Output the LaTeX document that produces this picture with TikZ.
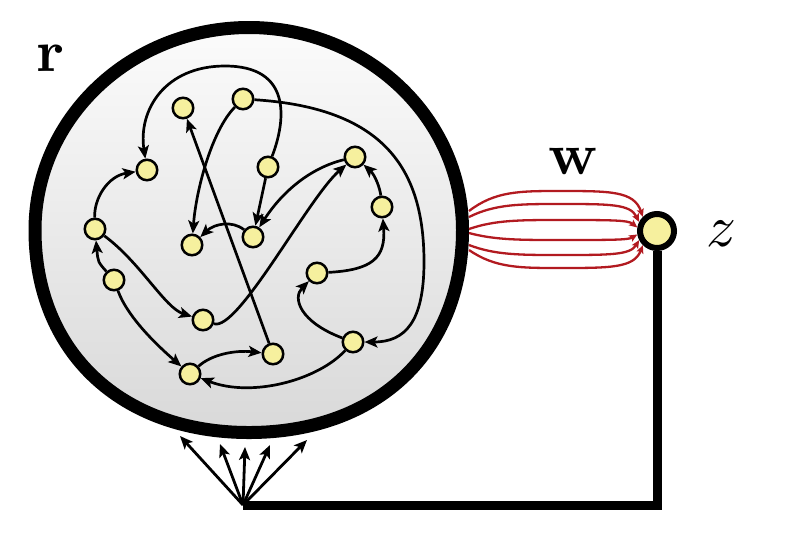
\documentclass[tikz,border=0pt]{standalone}
\usetikzlibrary{arrows.meta,shapes.geometric}
\definecolor{nodefill}{RGB}{246,240,158}
\definecolor{wred}{RGB}{178,26,32}
\begin{document}
\begin{tikzpicture}[x=1pt,y=-1pt,
  vtx/.style={circle,draw=black,line width=2.5pt,fill=nodefill,minimum size=20.5pt,inner sep=0pt},
  edge/.style={line width=2.7pt,-{Stealth[length=13pt,width=11pt,inset=3pt]}},
  redge/.style={draw=wred,line width=2.3pt,-{Stealth[length=8pt,width=7pt,inset=1.5pt]}},
  fan/.style={line width=2.8pt,-{Stealth[length=13pt,width=11pt,inset=3pt]}},
  ring/.style={draw=black,line width=13pt,top color=gray!3,bottom color=gray!30},
  lab/.style={inner sep=0pt,scale=5.9}
]
\useasboundingbox (0,0) rectangle (786,558);
% big region
\path[ring] (35,230) .. controls (35,118) and (131,27.5) .. (249,27.5)
  .. controls (367,27.5) and (462.5,118) .. (462.5,230)
  .. controls (462.5,352) and (377,432.5) .. (249,432.5)
  .. controls (121,432.5) and (35,352) .. (35,230) -- cycle;
% inner nodes
\node[vtx] (A) at (183,108) {};
\node[vtx] (B) at (243,99) {};
\node[vtx] (C) at (147,170) {};
\node[vtx] (D) at (268,167) {};
\node[vtx] (E) at (355,157) {};
\node[vtx] (F) at (382,207) {};
\node[vtx] (G) at (95,229) {};
\node[vtx] (H) at (192,245) {};
\node[vtx] (I) at (253,237) {};
\node[vtx] (J) at (114,280) {};
\node[vtx] (K) at (317,273) {};
\node[vtx] (L) at (203,320) {};
\node[vtx] (M) at (273,354) {};
\node[vtx] (N) at (353,342) {};
\node[vtx] (O) at (190,374) {};
% inner edges
\draw[edge] (D) .. controls (286,120) and (292,66) .. (225,66) .. controls (165,66) and (138,110) .. (C);
\draw[edge] (B) .. controls (212,130) and (196,190) .. (H);
\draw[edge] (M) -- (A);
\draw[edge] (D) -- (I);
\draw[edge] (I) .. controls (232,220) and (214,224) .. (H);
\draw[edge] (E) .. controls (310,168) and (282,192) .. (I);
\draw[edge] (L) .. controls (238,332) and (308,198) .. (E);
\draw[edge] (F) .. controls (380,188) and (375,175) .. (E);
\draw[edge] (K) .. controls (372,270) and (386,258) .. (F);
\draw[edge] (N) .. controls (300,322) and (292,298) .. (K);
\draw[edge] (B) .. controls (385,108) and (424,170) .. (424,262) .. controls (424,322) and (405,342) .. (N);
\draw[edge] (J) .. controls (98,262) .. (G);
\draw[edge] (G) .. controls (94,198) and (108,176) .. (C);
\draw[edge] (G) .. controls (140,262) and (165,308) .. (L);
\draw[edge] (J) .. controls (128,318) and (158,346) .. (O);
\draw[edge] (O) .. controls (212,354) and (236,350) .. (M);
\draw[edge] (N) .. controls (318,380) and (252,398) .. (O);
% output node
\node[circle,draw=black,line width=6pt,fill=nodefill,minimum size=34pt,inner sep=0pt] (z) at (657,231) {};
% red weights
\draw[redge] (469,211) .. controls (495,191) and (520,191) .. (560,191) .. controls (610,191) and (634,191) .. (z.135);
\draw[redge] (469,217) .. controls (495,204) and (520,204) .. (560,204) .. controls (610,204) and (630,204) .. (z.153);
\draw[redge] (469,229) .. controls (495,220) and (520,220) .. (560,220) .. controls (610,220) and (628,220) .. (z.170);
\draw[redge] (469,233) .. controls (495,240) and (520,240) .. (560,240) .. controls (610,240) and (628,240) .. (z.190);
\draw[redge] (469,245) .. controls (495,255) and (520,255) .. (560,255) .. controls (610,255) and (630,255) .. (z.207);
\draw[redge] (469,250) .. controls (495,268) and (520,268) .. (560,268) .. controls (610,268) and (634,268) .. (z.225);
% feedback connection
\coordinate (P) at (243,505);
\coordinate (t1) at (180,436);
\coordinate (t2) at (220,444);
\coordinate (t3) at (245,447);
\coordinate (t4) at (270,445);
\coordinate (t5) at (307,440);
\draw[line width=9pt] (P) -| (z);
\foreach \t in {t1,t2,t3,t4,t5} \draw[fan] (P) -- (\t);
% labels
\node[lab] (rlab) at (50,58) {$\mathbf{r}$};
\node[lab] (wlab) at (573,161) {$\mathbf{w}$};
\node[lab] (zlab) at (722,234) {$z$};
\end{tikzpicture}
\end{document}
